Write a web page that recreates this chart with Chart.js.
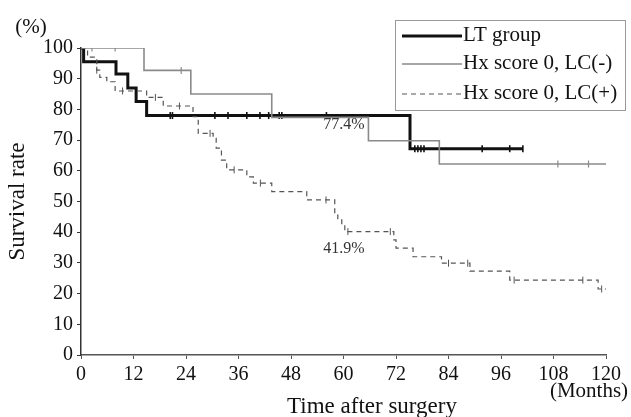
<!DOCTYPE html>
<html>
<head>
<meta charset="utf-8">
<script src="https://cdn.jsdelivr.net/npm/chart.js@4"></script>
<style>
  html, body { margin: 0; padding: 0; background: #fff; }
  #wrap { width: 631px; height: 417px; }
</style>
</head>
<body>
<div id="wrap"><canvas id="km" width="631" height="417"></canvas></div>
<script>
// x ticks (months) and y ticks (%)
const xTicks = [0, 12, 24, 36, 48, 60, 72, 84, 96, 108, 120];
const yTicks = [0, 10, 20, 30, 40, 50, 60, 70, 80, 90, 100];

// LT group: time of each step and survival after it
const ltTimes = [0, 0.6, 8, 10.7, 12.6, 15, 75.2, 101];
const ltSurv  = [100, 95.5, 91.5, 87, 82.6, 78, 67.2, 67.2];
const ltCensTimes = [20.4, 20.9, 30.6, 33.6, 37.9, 40.9, 42.9, 45.3, 45.9, 56.1, 76.3, 77, 77.7, 78.4, 91.7, 98, 101];
const ltCensSurv  = [78, 78, 78, 78, 78, 78, 78, 78, 78, 78, 67.2, 67.2, 67.2, 67.2, 67.2, 67.2, 67.2];

// Hx score 0, LC(-)
const negTimes = [0, 14.4, 25.1, 43.6, 65.7, 81.9, 120];
const negSurv  = [100, 92.7, 85, 77.4, 69.8, 62.2, 62.2];
const negCensTimes = [2.5, 7.8, 22.9, 109, 116];
const negCensSurv  = [100, 100, 92.7, 62.2, 62.2];

// Hx score 0, LC(+)
const posTimes = [0, 1.5, 3.6, 4.3, 5.9, 7.8, 15, 18.8, 25.6, 26.8, 30.2, 30.9, 32.1, 33.3, 37.9, 39.4,
                  43.6, 51.6, 58, 58.7, 59.6, 60.3, 71.5, 72, 75.9, 82.4, 88.9, 98, 118.2, 120];
const posSurv  = [100, 97, 92.8, 90.4, 89, 86, 83.9, 81.1, 77.6, 72.2, 70.6, 67.4, 63.5, 60.3, 58, 56,
                  53.2, 50.5, 45.6, 44, 42.3, 40.2, 37.5, 34.8, 32, 29.9, 27.3, 24.4, 21.5, 21.5];
const posCensTimes = [3.6, 9.5, 17, 22.5, 29.5, 35, 41, 56, 61, 70.7, 84, 88.4, 99, 114.7, 119];
const posCensSurv  = [92.8, 86, 83.9, 81.1, 72.2, 60.3, 56, 50.5, 40.2, 40.2, 29.9, 29.9, 24.4, 24.4, 21.5];

const seriesNames = ["LT group", "Hx score 0, LC(-)", "Hx score 0, LC(+)"];
const notes = ["77.4%", "41.9%"];

const SERIF = "'Liberation Serif', 'DejaVu Serif', serif";

function pts(ts, vs) {
  return ts.map((t, i) => ({ x: t, y: vs[i] }));
}

const styles = [
  { color: "#111", width: 3, dash: [] },
  { color: "#8a8a8a", width: 1.6, dash: [] },
  { color: "#555", width: 1.2, dash: [5, 4] }
];

function curve(label, data, st) {
  return {
    type: "line", label, data,
    stepped: true,
    borderColor: st.color, borderWidth: st.width, borderDash: st.dash,
    pointRadius: 0, fill: false, tension: 0
  };
}

function censor(data, color, w) {
  return {
    type: "scatter", data,
    pointStyle: "line", rotation: 90, radius: 3.5, hoverRadius: 3.5,
    borderColor: color, borderWidth: w, backgroundColor: color
  };
}

// free text and the boxed legend
const extras = {
  id: "extras",
  afterDraw(chart) {
    const ctx = chart.ctx;
    ctx.save();
    ctx.fillStyle = "#111";
    ctx.textBaseline = "middle";

    ctx.font = "21px " + SERIF;
    ctx.textAlign = "center";
    ctx.fillText("(%)", 31, 27);
    ctx.fillText("(Months)", 589, 391);
    ctx.font = "23px " + SERIF;
    ctx.fillText("Time after surgery", 372, 407);

    const xs = chart.scales.x, ys = chart.scales.y;
    ctx.font = "16px " + SERIF;
    ctx.fillStyle = "#333";
    ctx.fillText(notes[0], 344, 125);
    ctx.fillText(notes[1], 344, 249);

    // legend
    ctx.strokeStyle = "#999";
    ctx.lineWidth = 1;
    ctx.strokeRect(395.5, 20.5, 230, 90);
    const rows = [35, 63, 93];
    ctx.font = "21px " + SERIF;
    ctx.textAlign = "left";
    ctx.fillStyle = "#111";
    seriesNames.forEach((name, i) => {
      const st = styles[i];
      ctx.beginPath();
      ctx.strokeStyle = st.color;
      ctx.lineWidth = st.width;
      ctx.setLineDash(st.dash);
      ctx.moveTo(402, rows[i] + 1);
      ctx.lineTo(462, rows[i] + 1);
      ctx.stroke();
      ctx.setLineDash([]);
      ctx.fillText(name, 463, rows[i]);
    });
    ctx.restore();
  }
};

new Chart(document.getElementById("km"), {
  data: {
    datasets: [
      curve(seriesNames[1], pts(negTimes, negSurv), styles[1]),
      curve(seriesNames[2], pts(posTimes, posSurv), styles[2]),
      curve(seriesNames[0], pts(ltTimes, ltSurv), styles[0]),
      censor(pts(negCensTimes, negCensSurv), "#8a8a8a", 1.2),
      censor(pts(posCensTimes, posCensSurv), "#555", 1),
      censor(pts(ltCensTimes, ltCensSurv), "#111", 1.6)
    ]
  },
  plugins: [extras],
  options: {
    responsive: false,
    animation: false,
    layout: { padding: { top: 48, right: 25, left: 0, bottom: 0 } },
    plugins: { legend: { display: false }, tooltip: { enabled: false } },
    scales: {
      x: {
        type: "linear", min: 0, max: 120,
        afterBuildTicks: s => { s.ticks = xTicks.map(v => ({ value: v })); },
        afterFit: s => { s.height = 62; },
        border: { color: "#555", width: 1.5 },
        grid: { drawOnChartArea: false, tickLength: 4, color: "#555" },
        ticks: { font: { family: SERIF, size: 20 }, color: "#111", padding: 4 }
      },
      y: {
        min: 0, max: 100,
        afterBuildTicks: s => { s.ticks = yTicks.map(v => ({ value: v })); },
        afterFit: s => { s.width = 81; },
        border: { color: "#333", width: 1.5 },
        grid: { drawOnChartArea: false, tickLength: 4, color: "#333" },
        ticks: { font: { family: SERIF, size: 20 }, color: "#111", padding: 4 },
        title: { display: true, text: "Survival rate", font: { family: SERIF, size: 23 }, color: "#111", padding: { top: 4, bottom: 0 } }
      }
    }
  }
});
</script>
</body>
</html>
